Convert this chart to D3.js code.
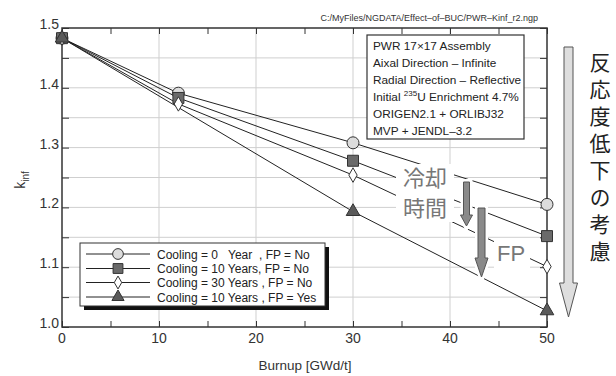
<!DOCTYPE html>
<html>
<head>
<meta charset="utf-8">
<script src="https://cdn.jsdelivr.net/npm/d3@7/dist/d3.min.js"></script>
<style>
  html, body { margin: 0; padding: 0; background: #fff; }
  svg { display: block; font-family: "Liberation Sans", Arial, sans-serif; }
</style>
</head>
<body>
<svg id="chart" width="616" height="376"></svg>
<script>
// Burnup points (GWd/t) and k-inf values for each case
const burnupA = [0, 12, 30, 50];
const burnupFP = [0, 30, 50];
const cool0 = [1.483, 1.391, 1.308, 1.205];
const cool10 = [1.483, 1.383, 1.278, 1.152];
const cool30 = [1.483, 1.373, 1.254, 1.101];
const cool10FP = [1.483, 1.193, 1.027];

const seriesNames = [
  "Cooling = 0\u00A0\u00A0\u00A0Year\u00A0\u00A0, FP = No",
  "Cooling = 10 Years, FP = No",
  "Cooling = 30 Years , FP = No",
  "Cooling = 10 Years , FP = Yes"
];
const xTicks = [0, 10, 20, 30, 40, 50];
const yTicks = [1.0, 1.1, 1.2, 1.3, 1.4, 1.5];
const infoLines = [
  "PWR 17\u00D717 Assembly",
  "Aixal Direction \u2013 Infinite",
  "Radial Direction \u2013 Reflective",
  "ORIGEN2.1 + ORLIBJ32",
  "MVP + JENDL\u20133.2"
];
const sideText = "反応度低下の考慮";

const svg = d3.select("#chart");
const x = d3.scaleLinear().domain([0, 50]).range([62, 547]);
const y = d3.scaleLinear().domain([1.0, 1.5]).range([327, 28]);

const series = [
  { xs: burnupA, ys: cool0, shape: "circle" },
  { xs: burnupA, ys: cool10, shape: "square" },
  { xs: burnupA, ys: cool30, shape: "diamond" },
  { xs: burnupFP, ys: cool10FP, shape: "triangle" }
];
const markerStyle = {
  circle: { sym: d3.symbolCircle, size: 113, fill: "#dcdcdc" },
  square: { sym: d3.symbolSquare, size: 121, fill: "#6a6a6a" },
  diamond: { sym: d3.symbolDiamond, size: 60, fill: "#ffffff" },
  triangle: { sym: d3.symbolTriangle, size: 80, fill: "#5a5a5a" }
};

// grid
const grid = svg.append("g");
d3.range(1.05, 1.499, 0.05).forEach(v => {
  grid.append("line").attr("x1", x(0)).attr("x2", x(50))
    .attr("y1", y(v)).attr("y2", y(v)).attr("stroke", "#cfcfcf").attr("stroke-width", 1);
});
[10, 20, 30, 40].forEach(v => {
  grid.append("line").attr("x1", x(v)).attr("x2", x(v))
    .attr("y1", y(1.0)).attr("y2", y(1.5)).attr("stroke", "#cfcfcf").attr("stroke-width", 1);
});

// axes with inward ticks
const yMinor = d3.range(1.0, 1.501, 0.05);
const xMinor = d3.range(0, 50.1, 5);
const axisStyle = g => {
  g.select(".domain").remove();
  g.selectAll(".tick line").attr("stroke", "#333");
  g.selectAll(".tick text").remove();
};
svg.append("g").attr("transform", `translate(${x(0)},0)`)
  .call(d3.axisRight(y).tickValues(yMinor).tickSize(7)).call(axisStyle);
svg.append("g").attr("transform", `translate(${x(50)},0)`)
  .call(d3.axisLeft(y).tickValues(yMinor).tickSize(7)).call(axisStyle);
svg.append("g").attr("transform", `translate(0,${y(1.0)})`)
  .call(d3.axisTop(x).tickValues(xMinor).tickSize(6)).call(axisStyle);
svg.append("g").attr("transform", `translate(0,${y(1.5)})`)
  .call(d3.axisBottom(x).tickValues(xMinor).tickSize(6)).call(axisStyle);

svg.append("rect").attr("x", x(0)).attr("y", y(1.5))
  .attr("width", x(50) - x(0)).attr("height", y(1.0) - y(1.5))
  .attr("fill", "none").attr("stroke", "#333").attr("stroke-width", 1.5);

// tick labels
svg.append("g").selectAll("text").data(yTicks).join("text")
  .attr("x", 59).attr("y", d => y(d) + 1)
  .attr("text-anchor", "end").attr("font-size", 14).attr("fill", "#333")
  .text(d => d.toFixed(1));
svg.append("g").selectAll("text").data(xTicks).join("text")
  .attr("x", d => x(d)).attr("y", 343)
  .attr("text-anchor", "middle").attr("font-size", 14).attr("fill", "#333")
  .text(d => d);

svg.append("text").attr("x", 305).attr("y", 370).attr("text-anchor", "middle")
  .attr("font-size", 13.5).attr("fill", "#333").text("Burnup [GWd/t]");
const yl = svg.append("text").attr("transform", "translate(25,180) rotate(-90)")
  .attr("text-anchor", "middle").attr("font-size", 14).attr("fill", "#333");
yl.append("tspan").text("k");
yl.append("tspan").attr("font-size", 10).attr("dy", 4).text("inf");

svg.append("text").attr("x", 538).attr("y", 21).attr("text-anchor", "end")
  .attr("font-size", 9).attr("fill", "#333")
  .text("C:/MyFiles/NGDATA/Effect\u2013of\u2013BUC/PWR\u2013Kinf_r2.ngp");

// data lines
const line = d3.line().x(d => x(d[0])).y(d => y(d[1]));
series.forEach(s => {
  const pts = s.xs.map((v, i) => [v, s.ys[i]]);
  svg.append("path").attr("d", line(pts)).attr("fill", "none")
    .attr("stroke", "#222").attr("stroke-width", 1);
});

// annotation: cooling time / FP with arrows (white backing breaks the lines)
const ann = svg.append("g").attr("font-family", "'Noto Sans CJK JP', sans-serif").attr("fill", "#777");
ann.append("rect").attr("x", 396).attr("y", 164).attr("width", 58).attr("height", 58).attr("fill", "#fff");
ann.append("rect").attr("x", 494).attr("y", 238).attr("width", 36).attr("height", 30).attr("fill", "#fff");
ann.append("text").attr("x", 425).attr("y", 186).attr("text-anchor", "middle").attr("font-size", 22).text("冷却");
ann.append("text").attr("x", 425).attr("y", 216).attr("text-anchor", "middle").attr("font-size", 22).text("時間");
ann.append("text").attr("x", 511).attr("y", 261).attr("text-anchor", "middle")
  .attr("font-family", "'Liberation Sans', Arial, sans-serif").attr("font-size", 22).text("FP");

function downArrow(g, cx, top, headTop, tip, shaftW, headW, fill, stroke, halo) {
  const p = [
    [cx - shaftW / 2, top], [cx + shaftW / 2, top], [cx + shaftW / 2, headTop],
    [cx + headW / 2, headTop], [cx, tip], [cx - headW / 2, headTop], [cx - shaftW / 2, headTop]
  ];
  const d = "M" + p.map(q => q.join(",")).join("L") + "Z";
  if (halo) g.append("path").attr("d", d).attr("fill", "#fff").attr("stroke", "#fff").attr("stroke-width", halo);
  g.append("path").attr("d", d).attr("fill", fill).attr("stroke", stroke).attr("stroke-width", 1);
}
downArrow(ann, 466.5, 182, 215, 226, 6, 12, "#8a8a8a", "#555", 6);
downArrow(ann, 481.5, 208, 258, 277, 7, 13, "#8a8a8a", "#555", 6);

// markers
series.forEach(s => {
  const st = markerStyle[s.shape];
  svg.append("g").selectAll("path").data(s.xs.map((v, i) => [v, s.ys[i]])).join("path")
    .attr("transform", d => `translate(${x(d[0])},${y(d[1])})`)
    .attr("d", d3.symbol(st.sym, st.size))
    .attr("fill", st.fill).attr("stroke", "#333").attr("stroke-width", 1);
});

// info box
const box = svg.append("g");
box.append("rect").attr("x", 367).attr("y", 35).attr("width", 157).attr("height", 104)
  .attr("fill", "#fff").attr("stroke", "#333").attr("stroke-width", 1.2);
const infoY = [50, 67, 84, 101, 118, 135];
const infoAll = [infoLines[0], infoLines[1], infoLines[2], null, infoLines[3], infoLines[4]];
infoAll.forEach((t, i) => {
  const tx = box.append("text").attr("x", 373).attr("y", infoY[i]).attr("font-size", 11.8).attr("fill", "#222");
  if (t !== null) { tx.text(t); return; }
  tx.append("tspan").text("Initial ");
  tx.append("tspan").attr("font-size", 8).attr("dy", -5).text("235");
  tx.append("tspan").attr("dy", 5).text("U Enrichment 4.7%");
});

// legend
const lg = svg.append("g");
lg.append("rect").attr("x", 84).attr("y", 247).attr("width", 245).attr("height", 63).attr("fill", "#111");
lg.append("rect").attr("x", 80).attr("y", 243).attr("width", 245).attr("height", 63)
  .attr("fill", "#fff").attr("stroke", "#333").attr("stroke-width", 1);
const legRowY = [254, 268.5, 282.5, 297];
series.forEach((s, i) => {
  const st = markerStyle[s.shape];
  lg.append("line").attr("x1", 86).attr("x2", 150).attr("y1", legRowY[i]).attr("y2", legRowY[i])
    .attr("stroke", "#222").attr("stroke-width", 1);
  lg.append("path").attr("transform", `translate(118,${legRowY[i]})`)
    .attr("d", d3.symbol(st.sym, st.size * 0.8))
    .attr("fill", st.fill).attr("stroke", "#333").attr("stroke-width", 1);
  lg.append("text").attr("x", 157).attr("y", legRowY[i] + 4.5).attr("font-size", 12).attr("fill", "#222")
    .text(seriesNames[i]);
});

// right-hand arrow and vertical caption
downArrow(svg, 568.5, 47, 283, 317, 9, 18, "#dedede", "#555", 0);
svg.append("text")
  .attr("x", 600).attr("y", 52)
  .attr("writing-mode", "vertical-rl")
  .attr("letter-spacing", 6)
  .attr("font-size", 21).attr("fill", "#222")
  .attr("font-family", "'Noto Sans CJK JP', sans-serif")
  .text(sideText);
</script>
</body>
</html>
